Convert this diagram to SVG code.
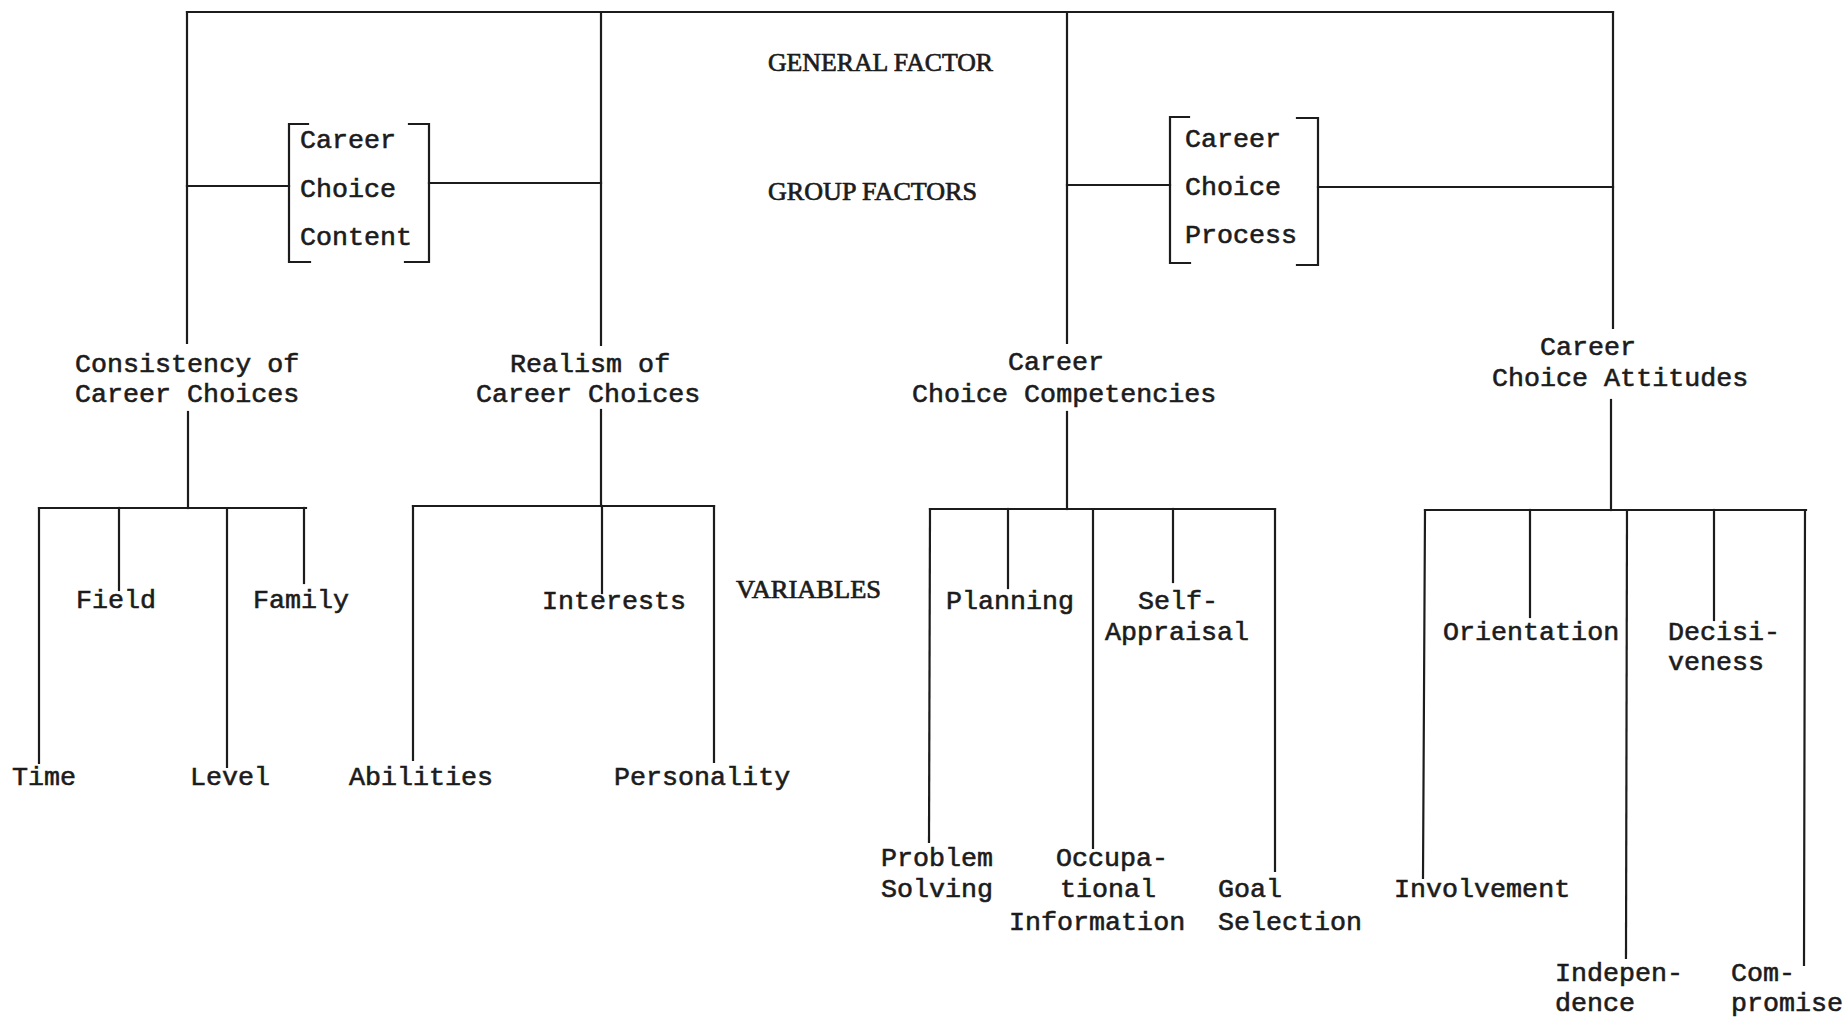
<svg xmlns="http://www.w3.org/2000/svg" width="1846" height="1019" viewBox="0 0 1846 1019">
<style>
.t{font-family:"Liberation Mono","DejaVu Sans Mono",monospace;font-size:26.7px;fill:#1c1c1c;stroke:#1c1c1c;stroke-width:0.6px}
.h{font-family:"Liberation Serif","DejaVu Serif",serif;font-size:26px;fill:#1c1c1c;stroke:#1c1c1c;stroke-width:0.7px}
.c line,.c polyline{stroke:#1c1c1c;stroke-width:2.2;fill:none;stroke-linecap:square}
</style>
<rect width="1846" height="1019" fill="#ffffff"/>
<g id="connectors" class="c">
<line x1="187" y1="12" x2="1613" y2="12"/>
<line x1="187" y1="12" x2="187" y2="343"/>
<line x1="601" y1="12" x2="601" y2="345"/>
<line x1="1067" y1="12" x2="1067" y2="343"/>
<line x1="1613" y1="12" x2="1613" y2="328"/>
<line x1="187" y1="186" x2="289" y2="186"/>
<line x1="429" y1="183" x2="601" y2="183"/>
<line x1="1067" y1="185" x2="1170" y2="185"/>
<line x1="1318" y1="187" x2="1613" y2="187"/>
<line x1="188" y1="412" x2="188" y2="508"/>
<line x1="601" y1="410" x2="601" y2="506"/>
<line x1="1067" y1="412" x2="1067" y2="509"/>
<line x1="1611" y1="400" x2="1611" y2="510"/>
<line x1="39" y1="508" x2="306" y2="508"/>
<line x1="413" y1="506" x2="714" y2="506"/>
<line x1="930" y1="509" x2="1275" y2="509"/>
<line x1="1425" y1="510" x2="1806" y2="510"/>
<line x1="39" y1="508" x2="39" y2="763"/>
<line x1="119" y1="508" x2="119" y2="590"/>
<line x1="227" y1="508" x2="227" y2="767"/>
<line x1="304" y1="508" x2="304" y2="583"/>
<line x1="413" y1="506" x2="413" y2="760"/>
<line x1="602" y1="506" x2="602" y2="593"/>
<line x1="714" y1="506" x2="714" y2="762"/>
<line x1="930" y1="509" x2="929" y2="842"/>
<line x1="1008" y1="509" x2="1008" y2="588"/>
<line x1="1093" y1="509" x2="1093" y2="848"/>
<line x1="1173" y1="509" x2="1173" y2="582"/>
<line x1="1275" y1="509" x2="1275" y2="871"/>
<line x1="1425" y1="510" x2="1423" y2="878"/>
<line x1="1530" y1="510" x2="1530" y2="617"/>
<line x1="1627" y1="510" x2="1626" y2="958"/>
<line x1="1714" y1="510" x2="1714" y2="620"/>
<line x1="1805" y1="510" x2="1804" y2="965"/>
</g>
<g id="labels">
<text class="h" x="768" y="71" textLength="225" lengthAdjust="spacingAndGlyphs">GENERAL FACTOR</text>
<text class="h" x="768" y="200" textLength="209" lengthAdjust="spacingAndGlyphs">GROUP FACTORS</text>
<text class="h" x="736" y="598" textLength="145" lengthAdjust="spacingAndGlyphs">VARIABLES</text>
</g>
<g id="career-choice-content" class="c">
<polyline points="308,124 289,124 289,262 310,262"/>
<polyline points="409,124 429,124 429,262 405,262"/>
<text class="t" x="300" y="148">Career</text>
<text class="t" x="300" y="197">Choice</text>
<text class="t" x="300" y="245">Content</text>
</g>
<g id="career-choice-process" class="c">
<polyline points="1189,117 1170,117 1170,263 1190,263"/>
<polyline points="1297,118 1318,118 1318,265 1297,265"/>
<text class="t" x="1185" y="147">Career</text>
<text class="t" x="1185" y="195">Choice</text>
<text class="t" x="1185" y="243">Process</text>
</g>
<g id="consistency"><text class="t" x="75" y="372">Consistency of</text><text class="t" x="75" y="402">Career Choices</text></g>
<g id="realism"><text class="t" x="510" y="372">Realism of</text><text class="t" x="476" y="402">Career Choices</text></g>
<g id="competencies"><text class="t" x="1008" y="370">Career</text><text class="t" x="912" y="402">Choice Competencies</text></g>
<g id="attitudes"><text class="t" x="1540" y="355">Career</text><text class="t" x="1492" y="386">Choice Attitudes</text></g>
<g id="time"><text class="t" x="12" y="785">Time</text></g>
<g id="field"><text class="t" x="76" y="608">Field</text></g>
<g id="level"><text class="t" x="190" y="785">Level</text></g>
<g id="family"><text class="t" x="253" y="608">Family</text></g>
<g id="abilities"><text class="t" x="349" y="785">Abilities</text></g>
<g id="interests"><text class="t" x="542" y="609">Interests</text></g>
<g id="personality"><text class="t" x="614" y="785">Personality</text></g>
<g id="problem-solving"><text class="t" x="881" y="866">Problem</text><text class="t" x="881" y="897">Solving</text></g>
<g id="planning"><text class="t" x="946" y="609">Planning</text></g>
<g id="occupational-information"><text class="t" x="1056" y="866">Occupa-</text><text class="t" x="1060" y="897">tional</text><text class="t" x="1009" y="930">Information</text></g>
<g id="self-appraisal"><text class="t" x="1138" y="609">Self-</text><text class="t" x="1105" y="640">Appraisal</text></g>
<g id="goal-selection"><text class="t" x="1218" y="897">Goal</text><text class="t" x="1218" y="930">Selection</text></g>
<g id="involvement"><text class="t" x="1394" y="897">Involvement</text></g>
<g id="orientation"><text class="t" x="1443" y="640">Orientation</text></g>
<g id="independence"><text class="t" x="1555" y="981">Indepen-</text><text class="t" x="1555" y="1011">dence</text></g>
<g id="decisiveness"><text class="t" x="1668" y="640">Decisi-</text><text class="t" x="1668" y="670">veness</text></g>
<g id="compromise"><text class="t" x="1731" y="981">Com-</text><text class="t" x="1731" y="1011">promise</text></g>
</svg>
